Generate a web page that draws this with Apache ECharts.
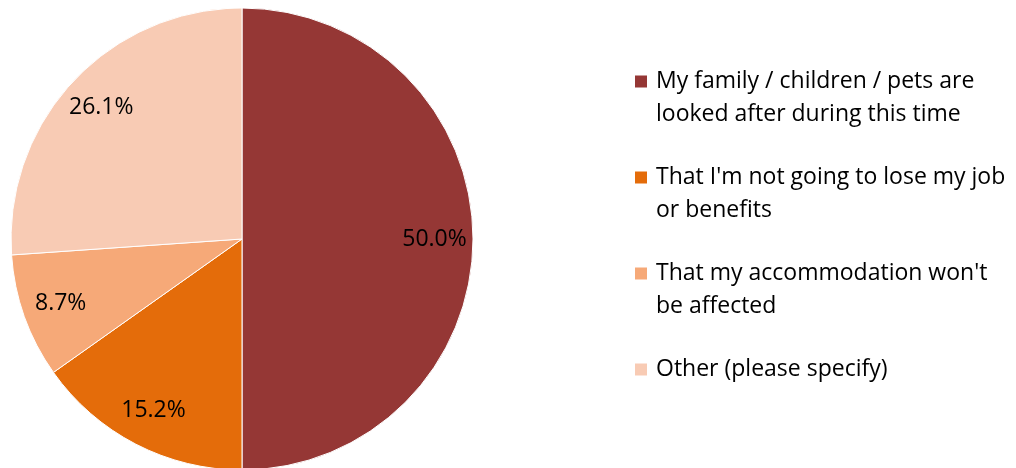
<!DOCTYPE html>
<html>
<head>
<meta charset="utf-8">
<script src="https://cdn.jsdelivr.net/npm/echarts@6/dist/echarts.min.js"></script>
<style>
  html, body { margin: 0; padding: 0; background: #fff; }
  #chart { width: 1016px; height: 468px; }
</style>
</head>
<body>
<div id="chart"></div>
<script>
// Survey answers and their share of respondents (%)
const categories = [
  'My family / children / pets are\nlooked after during this time',
  "That I'm not going to lose my job\nor benefits",
  "That my accommodation won't\nbe affected",
  'Other (please specify)'
];
const shares = [50.0, 15.2, 8.7, 26.1];
const colors = ['#953735', '#E46C0A', '#F6A978', '#F8CBB4'];

const FONT = 'Open Sans';
const FONT_SIZE = 23;
const R = 231;
const CENTER = [242, 239];

const pieData = categories.map((name, i) => ({
  name: name,
  value: shares[i],
  itemStyle: { color: colors[i] }
}));

const chart = echarts.init(document.getElementById('chart'), null, { renderer: 'canvas' });
chart.setOption({
  animation: false,
  backgroundColor: '#ffffff',
  legend: {
    orient: 'vertical',
    left: 633,
    top: 32,
    padding: 0,
    itemWidth: 14,
    itemHeight: 14,
    itemGap: -3,
    icon: 'rect',
    selectedMode: false,
    data: categories,
    // three text rows per item so the marker sits level with the first row
    formatter: (name) => name.indexOf('\n') >= 0 ? '\n' + name : '\n' + name + '\n',
    textStyle: {
      fontFamily: FONT,
      fontSize: FONT_SIZE,
      lineHeight: 33,
      color: '#000',
      padding: [0, 0, 0, 3]
    }
  },
  series: [
    {
      type: 'pie',
      center: CENTER,
      radius: [0, R],
      startAngle: 90,
      clockwise: true,
      silent: true,
      label: { show: false },
      labelLine: { show: false },
      itemStyle: { borderColor: '#ffffff', borderWidth: 1 },
      data: pieData
    },
    {
      // transparent ring carrying the percentage labels
      type: 'pie',
      center: CENTER,
      radius: [148, R],
      startAngle: 90,
      clockwise: true,
      silent: true,
      itemStyle: { color: 'rgba(0,0,0,0)' },
      label: {
        show: true,
        position: 'inside',
        fontFamily: FONT,
        fontSize: FONT_SIZE,
        color: '#000',
        formatter: (p) => p.value.toFixed(1) + '%'
      },
      labelLine: { show: false },
      data: categories.map((name, i) => ({ name: name, value: shares[i] }))
    }
  ]
});
</script>
</body>
</html>
